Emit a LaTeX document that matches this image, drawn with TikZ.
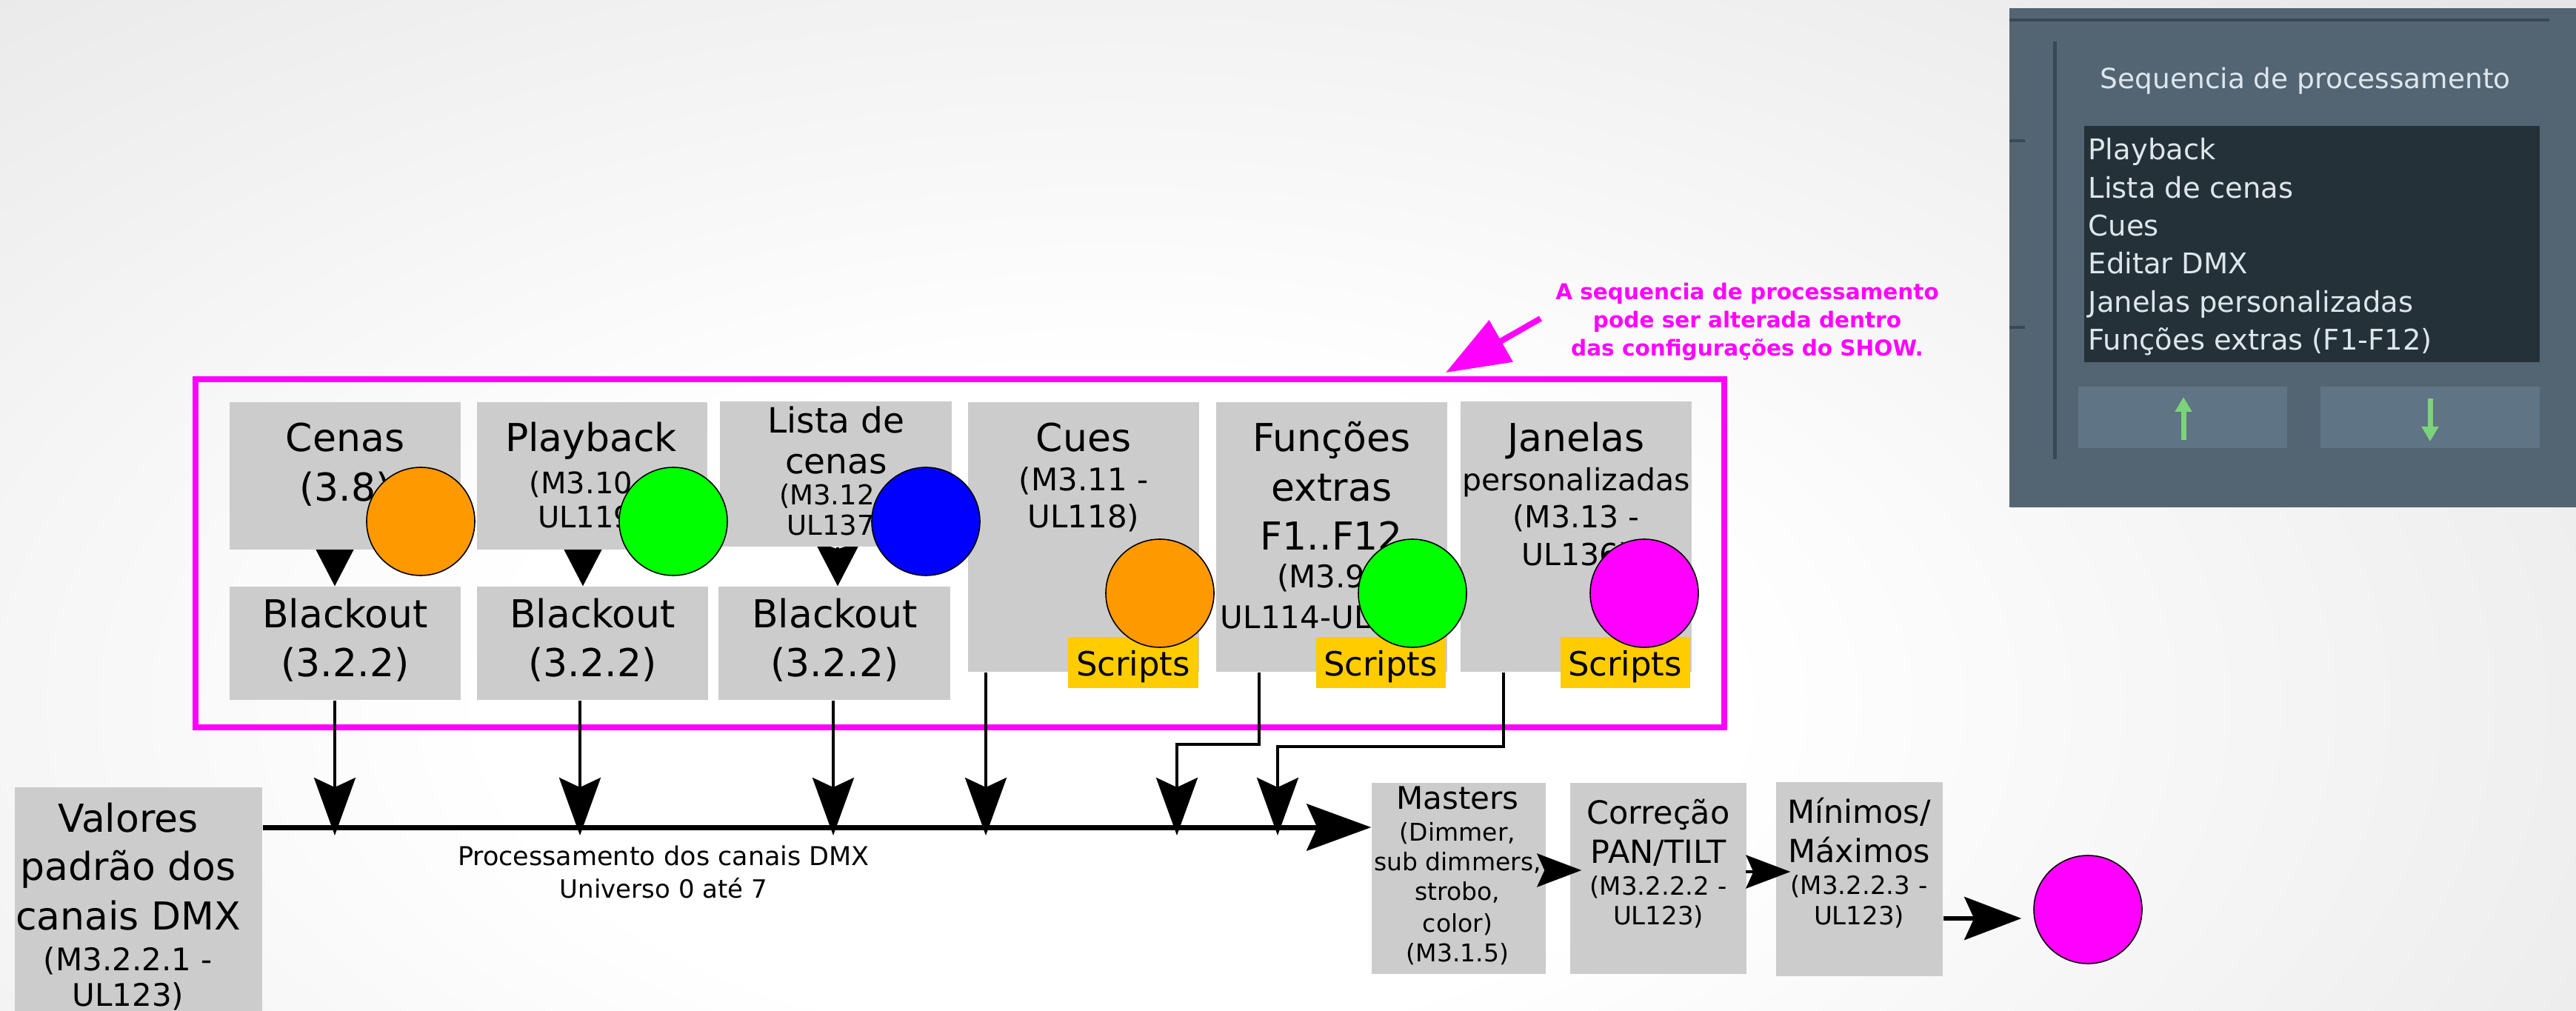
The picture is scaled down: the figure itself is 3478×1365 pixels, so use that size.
\documentclass[tikz,border=0pt]{standalone}
\usepackage{fontspec}
\setmainfont{DejaVu Sans}
\usetikzlibrary{arrows.meta,fit,shadings}
\definecolor{boxgray}{HTML}{CCCCCC}
\definecolor{scriptgold}{HTML}{FFCC00}
\definecolor{orng}{HTML}{FF9900}
\definecolor{grn}{HTML}{00FF00}
\definecolor{blu}{HTML}{0000FF}
\definecolor{mag}{HTML}{FF00FF}
\definecolor{panelc}{HTML}{536573}
\definecolor{paneldark}{HTML}{3A4852}
\definecolor{listbg}{HTML}{253138}
\definecolor{btnc}{HTML}{5F7484}
\definecolor{paneltxt}{HTML}{DDE6EC}
\definecolor{arrgreen}{HTML}{7BD37B}
\pgfdeclareradialshading{bgshade}{\pgfpoint{0bp}{0bp}}{color(0bp)=(white); color(8bp)=(white); color(50bp)=(black!24)}
\newcommand\myL{\fontsize{5.2mm}{6mm}\selectfont}
\newcommand\myLi{\fontsize{4.7mm}{5.5mm}\selectfont}
\newcommand\myM{\fontsize{4.2mm}{5mm}\selectfont}
\newcommand\myMt{\fontsize{4.3mm}{5mm}\selectfont}
\newcommand\myS{\fontsize{3.4mm}{4mm}\selectfont}
\newcommand\myPb{\fontsize{4.0mm}{4.8mm}\selectfont}
\newcommand\myLs{\fontsize{3.7mm}{4.4mm}\selectfont}
\newcommand\mySc{\fontsize{4.5mm}{5.3mm}\selectfont}
\newcommand\myPk{\fontsize{2.95mm}{3.4mm}\selectfont\bfseries}
\newcommand\myPt{\fontsize{3.75mm}{4.4mm}\selectfont}
\newcommand\myPl{\fontsize{3.85mm}{4.5mm}\selectfont}
\begin{document}
\begin{tikzpicture}[x=0.1mm,y=-0.1mm,
  box/.style={fill=boxgray, draw=none, inner sep=0pt},
  scr/.style={fill=scriptgold, draw=none, inner sep=0pt},
  t/.style={anchor=base, inner sep=0pt, text=black},
  dot/.style={circle, draw=black, line width=0.16mm, minimum size=14.6mm, inner sep=0pt},
  thinln/.style={line width=0.42mm, line join=miter},
  busln/.style={line width=0.7mm},
  vtip/.style={-{Stealth[length=7.8mm, width=5.6mm, inset=1.3mm]}},
  btip/.style={-{Stealth[length=6mm, width=6.2mm, inset=1mm]}},
  mtip/.style={-{Stealth[length=8.7mm, width=6.3mm, inset=1.4mm]}},
  stip/.style={-{Stealth[length=6mm, width=4.5mm, inset=1mm]}},
  ftip/.style={-{Stealth[length=7.7mm, width=5.8mm, inset=1.3mm]}},
  pk/.style={anchor=base, inner sep=0pt, text=mag, font=\myPk},
  litem/.style={anchor=base west, inner sep=0pt, text=paneltxt, font=\myPl}]
\useasboundingbox (0,0) rectangle (3478,1365);
\clip (0,0) rectangle (3478,1365);
% background
\shade[shading=bgshade] (-1100,-450) rectangle (4100,2350);

% ---------- software panel (screenshot) ----------
\node[fit={(2713,11) (3500,685)}, fill=panelc, inner sep=0pt] (panel) {};
\draw[paneldark, line width=0.4mm] (2713,27) -- (3442,27);
\draw[paneldark, line width=0.5mm] (2774,56) -- (2774,620);
\draw[paneldark, line width=0.4mm] (2713,190) -- (2734,190);
\draw[paneldark, line width=0.4mm] (2713,442) -- (2734,442);
\node[anchor=base west, inner sep=0pt, text=paneltxt, font=\myPt] (ptitle) at (2835,120) {Sequencia de processamento};
\node[fit={(2814,170) (3429,489)}, fill=listbg, inner sep=0pt] (plist) {};
\node[litem] (li1) at (2819,216) {Playback};
\node[litem] (li2) at (2819,268) {Lista de cenas};
\node[litem] (li3) at (2819,319) {Cues};
\node[litem] (li4) at (2819,370) {Editar DMX};
\node[litem] (li5) at (2819,422) {Janelas personalizadas};
\node[litem] (li6) at (2819,473) {Funções extras (F1-F12)};
\node[fit={(2806,522) (3088,605)}, fill=btnc, inner sep=0pt] (bup) {};
\node[fit={(3133,522) (3429,605)}, fill=btnc, inner sep=0pt] (bdown) {};
\draw[arrgreen, line width=0.7mm, -{Triangle[length=2mm, width=2.2mm]}] (2948,594) -- (2948,536);
\draw[arrgreen, line width=0.7mm, -{Triangle[length=2mm, width=2.2mm]}] (3281,538) -- (3281,596);

% ---------- magenta frame ----------
\node[fit={(264,512) (2328,982)}, draw=mag, line width=0.75mm, inner sep=0pt] (frame) {};

% coordinates for connector positions
\coordinate (bus) at (0,1117);
\coordinate (bustip) at (0,1128);
\coordinate (bendF) at (0,1005);
\coordinate (bendJ) at (0,1008);
\coordinate (yMC) at (0,1175);
\coordinate (yCM) at (0,1177);
\coordinate (yMO) at (0,1240);
\coordinate (xa1) at (452,0);
\coordinate (xa2) at (787,0);
\coordinate (xa3) at (1131,0);
\coordinate (x1) at (452,0);
\coordinate (x2) at (783,0);
\coordinate (x3) at (1125,0);
\coordinate (x4) at (1331,0);
\coordinate (x5a) at (1700,0);
\coordinate (x5b) at (1589,0);
\coordinate (x6a) at (2030,0);
\coordinate (x6b) at (1725,0);

% ---------- boxes ----------
\node[box, fit={(310,543) (622,742)}] (cenas) {};
\node[box, fit={(644,543) (955,742)}] (playb) {};
\node[box, fit={(972,542) (1285,738)}] (lista) {};
\node[box, fit={(1307,543) (1619,907)}] (cues) {};
\node[box, fit={(1642,543) (1954,907)}] (func) {};
\node[box, fit={(1972,542) (2284,907)}] (jan) {};
\node[box, fit={(310,792) (622,945)}] (blk1) {};
\node[box, fit={(644,792) (956,945)}] (blk2) {};
\node[box, fit={(970,792) (1283,945)}] (blk3) {};
\node[box, fit={(20,1063) (354,1420)}] (valores) {};
\node[box, fit={(1852,1057) (2087,1315)}] (masters) {};
\node[box, fit={(2120,1057) (2358,1315)}] (corr) {};
\node[box, fit={(2398,1056) (2623,1318)}] (mini) {};

% arrows top box -> blackout (tips over the blackout boxes)
\draw[thinln, btip] (cenas.south -| xa1) -- (blk1.north -| xa1);
\draw[thinln, btip] (playb.south -| xa2) -- (blk2.north -| xa2);
\draw[thinln, btip] (lista.south -| xa3) -- (blk3.north -| xa3);
\fill[boxgray] (310,700) rectangle (622,742);
\fill[boxgray] (644,700) rectangle (955,742);
\fill[boxgray] (972,700) rectangle (1285,738);

% ---------- texts ----------
\node[t, font=\myL] (tc1) at (466,610) {Cenas};
\node[t, font=\myL] (tc2) at (466,677) {(3.8)};
\node[t, font=\myL] (tp1) at (798,610) {Playback};
\node[t, font=\myPb] (tp2) at (798,667) {(M3.10 -};
\node[t, font=\myPb] (tp3) at (798,713) {UL119)};
\node[t, font=\myLi] (tl1) at (1129,585) {Lista de};
\node[t, font=\myLi] (tl2) at (1129,640) {cenas};
\node[t, font=\myLs] (tl3) at (1129,682) {(M3.12 -};
\node[t, font=\myLs] (tl4) at (1129,723) {UL137)};
\node[t, font=\myL] (tq1) at (1463,610) {Cues};
\node[t, font=\myM] (tq2) at (1463,663) {(M3.11 -};
\node[t, font=\myM] (tq3) at (1463,713) {UL118)};
\node[t, font=\myL] (tf1) at (1798,610) {Funções};
\node[t, font=\myL] (tf2) at (1798,677) {extras};
\node[t, font=\myL] (tf3) at (1798,743) {F1..F12};
\node[t, font=\myM] (tf4) at (1798,793) {(M3.9 -};
\node[t, font=\myM] (tf5) at (1798,848) {UL114-UL117)};
\node[t, font=\myL] (tj1) at (2128,610) {Janelas};
\node[t, font=\fontsize{4.1mm}{5mm}\selectfont] (tj2) at (2128,663) {personalizadas};
\node[t, font=\fontsize{4.1mm}{5mm}\selectfont] (tj3) at (2128,713) {(M3.13 -};
\node[t, font=\fontsize{4.1mm}{5mm}\selectfont] (tj4) at (2128,763) {UL136)};
\node[t, font=\myL] (tb1) at (466,847) {Blackout};
\node[t, font=\myL] (tb2) at (466,913) {(3.2.2)};
\node[t, font=\myL] (tb3) at (800,847) {Blackout};
\node[t, font=\myL] (tb4) at (800,913) {(3.2.2)};
\node[t, font=\myL] (tb5) at (1127,847) {Blackout};
\node[t, font=\myL] (tb6) at (1127,913) {(3.2.2)};
% scripts labels
\node[scr, fit={(1442,860) (1618,929)}] (sc1) {};
\node[scr, fit={(1777,860) (1952,929)}] (sc2) {};
\node[scr, fit={(2107,860) (2282,929)}] (sc3) {};
\node[t, font=\mySc] (ts1) at (1530,912) {Scripts};
\node[t, font=\mySc] (ts2) at (1864,912) {Scripts};
\node[t, font=\mySc] (ts3) at (2194,912) {Scripts};
% valores
\node[t, font=\myL] (tv1) at (173,1123) {Valores};
\node[t, font=\myL] (tv2) at (173,1188) {padrão dos};
\node[t, font=\myL] (tv3) at (173,1255) {canais DMX};
\node[t, font=\myM] (tv4) at (173,1310) {(M3.2.2.1 -};
\node[t, font=\myM] (tv5) at (173,1358) {UL123)};
% masters
\node[t, font=\myM] (tm1) at (1968,1092) {Masters};
\node[t, font=\fontsize{3.3mm}{4mm}\selectfont] (tm2) at (1968,1135) {(Dimmer,};
\node[t, font=\fontsize{3.3mm}{4mm}\selectfont] (tm3) at (1968,1175) {sub dimmers,};
\node[t, font=\fontsize{3.3mm}{4mm}\selectfont] (tm4) at (1968,1215) {strobo,};
\node[t, font=\fontsize{3.3mm}{4mm}\selectfont] (tm5) at (1968,1258) {color)};
\node[t, font=\fontsize{3.3mm}{4mm}\selectfont] (tm6) at (1968,1298) {(M3.1.5)};
% correcao
\node[t, font=\myMt] (tr1) at (2239,1112) {Correção};
\node[t, font=\myMt] (tr2) at (2239,1165) {PAN/TILT};
\node[t, font=\myS] (tr3) at (2239,1208) {(M3.2.2.2 -};
\node[t, font=\myS] (tr4) at (2239,1248) {UL123)};
% minimos
\node[t, font=\myMt] (tn1) at (2510,1111) {Mínimos/};
\node[t, font=\myMt] (tn2) at (2510,1164) {Máximos};
\node[t, font=\myS] (tn3) at (2510,1207) {(M3.2.2.3 -};
\node[t, font=\myS] (tn4) at (2510,1248) {UL123)};
% bus label
\node[t, font=\fontsize{3.5mm}{4.2mm}\selectfont] (lb1) at (896,1168) {Processamento dos canais DMX};
\node[t, font=\myS] (lb2) at (896,1212) {Universo 0 até 7};

% ---------- connectors ----------
\draw[busln, mtip] (valores.east |- bus) -- (masters.west |- bus);
\draw[thinln, vtip] (blk1.south -| x1) -- (x1 |- bustip);
\draw[thinln, vtip] (blk2.south -| x2) -- (x2 |- bustip);
\draw[thinln, vtip] (blk3.south -| x3) -- (x3 |- bustip);
\draw[thinln, vtip] (cues.south -| x4) -- (x4 |- bustip);
\draw[thinln, vtip] (func.south -| x5a) -- (x5a |- bendF) -- (x5b |- bendF) -- (x5b |- bustip);
\draw[thinln, vtip] (jan.south -| x6a) -- (x6a |- bendJ) -- (x6b |- bendJ) -- (x6b |- bustip);
\draw[thinln, stip, shorten <=-1.2mm, shorten >=-1.6mm] (masters.east |- yMC) -- (corr.west |- yMC);
\draw[thinln, stip, shorten <=-0.2mm, shorten >=-2mm] (corr.east |- yCM) -- (mini.west |- yCM);

% ---------- circles ----------
\node[dot, fill=orng] (oc1) at (568,704) {};
\node[dot, fill=grn] (gc1) at (909,704) {};
\node[dot, fill=blu] (bc1) at (1250,704) {};
\node[dot, fill=orng] (oc2) at (1566,801) {};
\node[dot, fill=grn] (gc2) at (1907,801) {};
\node[dot, fill=mag] (mc1) at (2220,801) {};
\node[dot, fill=mag] (mc2) at (2819,1228) {};
\draw[line width=0.6mm, ftip, shorten >=1.6mm] (mini.east |- yMO) -- (mc2.west |- yMO);

% ---------- pink annotation ----------
\node[pk] (pk1) at (2359,405) {A sequencia de processamento};
\node[pk] (pk2) at (2359,443) {pode ser alterada dentro};
\node[pk] (pk3) at (2359,481) {das configurações do SHOW.};
\coordinate (ptail) at (2080,430);
\coordinate (ptip) at (1952,503);
\draw[mag, line width=0.8mm, -{Triangle[length=8.6mm, width=6.3mm]}] (ptail) -- (ptip);
\end{tikzpicture}
\end{document}
